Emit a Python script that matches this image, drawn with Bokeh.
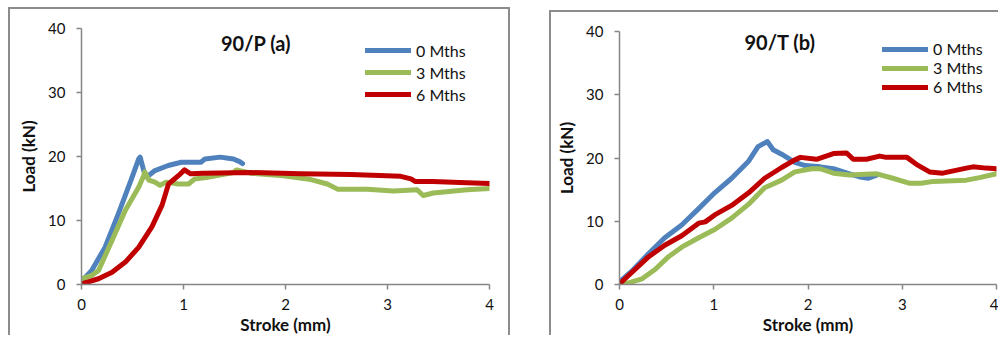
from bokeh.plotting import figure
from bokeh.layouts import row
from bokeh.models import Range1d, FixedTicker, Legend, LegendItem, Label
from bokeh.embed import file_html
from bokeh.resources import INLINE

# ---------------- data: (a) 90/P ----------------
a_x0 = [0.0, 0.036, 0.10, 0.23, 0.36, 0.49, 0.56, 0.575, 0.61, 0.64, 0.72, 0.85, 0.98, 1.17, 1.21, 1.36, 1.49, 1.55, 1.58]
a_y0 = [0.5, 1.1, 2.2, 5.8, 11.0, 16.5, 19.6, 19.9, 17.8, 16.8, 17.8, 18.6, 19.1, 19.1, 19.6, 19.9, 19.6, 19.2, 18.9]

a_x3 = [0.0, 0.10, 0.167, 0.30, 0.43, 0.56, 0.61, 0.62, 0.66, 0.72, 0.77, 0.83, 0.95, 1.05, 1.11, 1.22,
        1.49, 1.52, 1.66, 1.98, 2.25, 2.41, 2.51, 2.8, 3.06, 3.29, 3.35, 3.45, 3.78, 4.0]
a_y3 = [0.9, 1.4, 2.2, 6.9, 11.6, 15.2, 17.0, 17.6, 16.3, 16.0, 15.5, 16.0, 15.7, 15.7, 16.5, 16.7,
        17.5, 17.9, 17.4, 17.0, 16.4, 15.7, 14.9, 14.9, 14.6, 14.8, 13.9, 14.3, 14.8, 15.0]

a_x6 = [0.0, 0.167, 0.30, 0.43, 0.56, 0.69, 0.79, 0.853, 0.95, 1.01, 1.07, 1.2, 1.66, 2.15, 2.64,
        3.13, 3.23, 3.27, 3.44, 3.78, 4.0]
a_y6 = [0.1, 0.9, 1.9, 3.5, 5.8, 9.0, 12.4, 15.7, 17.0, 17.9, 17.3, 17.4, 17.5, 17.3, 17.2,
        16.9, 16.5, 16.1, 16.1, 15.9, 15.8]

# ---------------- data: (b) 90/T ----------------
b_x0 = [0.0, 0.13, 0.31, 0.48, 0.66, 0.84, 1.01, 1.19, 1.37, 1.47, 1.57, 1.63, 1.72, 1.86, 1.97,
        2.13, 2.27, 2.44, 2.55, 2.64, 2.73]
b_y0 = [0.4, 2.1, 4.9, 7.4, 9.4, 12.0, 14.5, 16.8, 19.5, 21.8, 22.6, 21.3, 20.6, 19.3, 18.8,
        18.6, 18.3, 17.5, 17.0, 16.8, 17.3]

b_x3 = [0.06, 0.24, 0.38, 0.52, 0.66, 0.84, 1.01, 1.19, 1.37, 1.54, 1.72, 1.86, 2.04, 2.13, 2.27,
        2.44, 2.73, 2.90, 3.08, 3.2, 3.33, 3.68, 3.82, 4.0]
b_y3 = [0.1, 0.9, 2.4, 4.4, 5.9, 7.4, 8.7, 10.5, 12.7, 15.3, 16.5, 17.8, 18.3, 18.3, 17.6,
        17.3, 17.5, 16.8, 16.0, 16.0, 16.3, 16.5, 16.9, 17.5]

b_x6 = [0.0, 0.13, 0.31, 0.48, 0.66, 0.84, 0.91, 1.01, 1.19, 1.37, 1.54, 1.72, 1.86, 1.92, 2.09,
        2.27, 2.41, 2.48, 2.62, 2.76, 2.83, 3.05, 3.15, 3.29, 3.43, 3.68, 3.75, 3.89, 4.0]
b_y6 = [0.1, 1.9, 4.4, 6.2, 7.7, 9.7, 9.9, 11.0, 12.5, 14.5, 16.8, 18.5, 19.7, 20.1, 19.8,
        20.7, 20.8, 19.8, 19.8, 20.3, 20.1, 20.1, 19.0, 17.8, 17.6, 18.4, 18.6, 18.4, 18.3]

series_labels = ["0 Mths", "3 Mths", "6 Mths"]
series_colors = ["#4F81BD", "#9BBB59", "#C00000"]
x_ticks = [0, 1, 2, 3, 4]
y_ticks = [0, 10, 20, 30, 40]

FONT = "Lato"
AXIS_COL = "#868686"
TXT = "#111111"


def make_chart(title, xs, ys, width, height, mb, title_pos, leg_pos, leg_h, leg_sp, styles):
    p = figure(width=width, height=height, output_backend="svg", toolbar_location=None,
               x_range=Range1d(0, 4), y_range=Range1d(0, 40),
               min_border_left=mb[0], min_border_right=mb[1], min_border_top=mb[2], min_border_bottom=mb[3])
    p.outline_line_color = None
    p.xgrid.visible = False
    p.ygrid.visible = False
    p.background_fill_color = "white"
    p.border_fill_color = "white"
    p.styles = styles

    renderers = []
    for x, y, c in zip(xs, ys, series_colors):
        r = p.line(x, y, line_color=c, line_width=5, line_cap="round", line_join="round")
        renderers.append(r)
    for ax in (p.xaxis[0], p.yaxis[0]):
        ax.axis_line_color = AXIS_COL
        ax.axis_line_width = 1.5
        ax.major_tick_line_color = AXIS_COL
        ax.major_tick_line_width = 1.5
        ax.major_tick_out = 5
        ax.major_tick_in = 0
        ax.minor_tick_line_color = None
        ax.major_label_text_font = FONT
        ax.major_label_text_font_size = "15px"
        ax.major_label_text_color = TXT
        ax.axis_label_text_font = FONT
        ax.axis_label_text_font_size = "17px"
        ax.axis_label_text_font_style = "bold"
        ax.axis_label_text_color = TXT
    p.xaxis.ticker = FixedTicker(ticks=x_ticks)
    p.yaxis.ticker = FixedTicker(ticks=y_ticks)
    p.xaxis.axis_label = "Stroke (mm)"
    p.yaxis.axis_label = "Load (kN)"
    p.xaxis.major_label_standoff = 9
    p.xaxis.axis_label_standoff = 1
    p.yaxis.major_label_standoff = 11
    p.yaxis.axis_label_standoff = 6

    p.add_layout(Label(x=title_pos[0], y=title_pos[1], x_units="screen", y_units="screen",
                       text=title, text_font=FONT, text_font_size="20px", text_font_style="bold",
                       text_align="center", text_baseline="middle", text_color=TXT))

    items = [LegendItem(label=l, renderers=[r]) for l, r in zip(series_labels, renderers)]
    leg = Legend(items=items, location=leg_pos, border_line_color=None, background_fill_alpha=0,
                 padding=0, margin=0, glyph_width=46, glyph_height=leg_h, label_height=leg_h,
                 spacing=leg_sp, label_standoff=5, label_text_font=FONT, label_text_font_size="16px",
                 label_text_color=TXT, label_text_baseline="middle")
    p.add_layout(leg)
    return p


BORDER = "2px solid #8c8c8c"
p1 = make_chart("90/P  (a)", [a_x0, a_x3, a_x6], [a_y0, a_y3, a_y6],
                width=502, height=328, mb=(71, 23, 19, 53),
                title_pos=(177, 242), leg_pos=(284, 180), leg_h=20, leg_sp=2,
                styles={"border-left": BORDER, "border-top": BORDER, "border-right": BORDER})
p1.margin = (7, 0, 0, 8)
p2 = make_chart("90/T  (b)", [b_x0, b_x3, b_x6], [b_y0, b_y3, b_y6],
                width=449, height=325, mb=(68, 4, 10, 51),
                title_pos=(163, 243), leg_pos=(263, 188), leg_h=18, leg_sp=0,
                styles={"border-left": BORDER, "border-top": BORDER})
p2.margin = (10, 0, 0, 39)

layout = row(p1, p2)
layout.spacing = 0

open("out.html", "w").write(file_html(layout, INLINE))
